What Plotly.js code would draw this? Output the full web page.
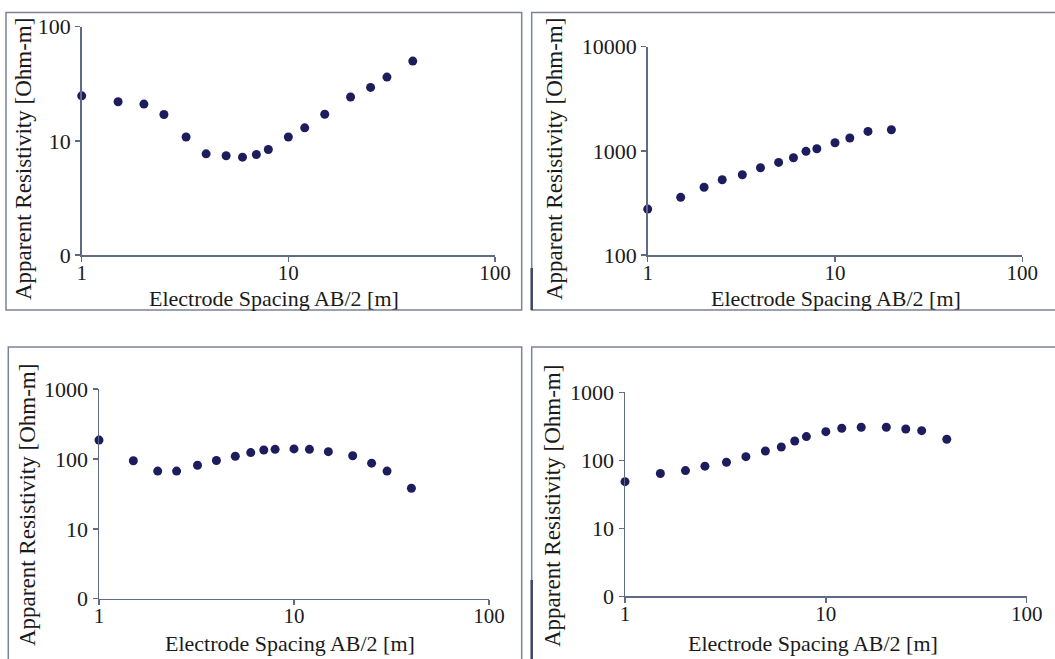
<!DOCTYPE html>
<html>
<head>
<meta charset="utf-8">
<script src="https://cdn.plot.ly/plotly-3.0.1.min.js"></script>
<style>
  html, body { margin: 0; padding: 0; background: #ffffff; }
  #chart { width: 1055px; height: 659px; }
</style>
</head>
<body>
<div id="chart"></div>
<script>
// ---- Data ----
const spacing1 = [1, 1.5, 2, 2.5, 3.2, 4, 5, 6, 7, 8, 10, 12, 15, 20, 25, 30, 40];
const resistivity1 = [24.8, 22, 21, 17, 10.8, 7.7, 7.4, 7.2, 7.6, 8.4, 10.8, 13, 17.1, 24.2, 29.4, 36.2, 50];

const spacing2 = [1, 1.5, 2, 2.5, 3.2, 4, 5, 6, 7, 8, 10, 12, 15, 20];
const resistivity2 = [276, 358, 447, 528, 590, 689, 775, 858, 989, 1047, 1196, 1328, 1537, 1596];

const spacing3 = [1, 1.5, 2, 2.5, 3.2, 4, 5, 6, 7, 8, 10, 12, 15, 20, 25, 30, 40];
const resistivity3 = [186, 94, 67, 67, 81, 95, 109, 123, 134, 137, 139, 137, 127, 111, 87, 67, 38];

const spacing4 = [1, 1.5, 2, 2.5, 3.2, 4, 5, 6, 7, 8, 10, 12, 15, 20, 25, 30, 40];
const resistivity4 = [48.5, 64, 70.5, 82, 93.5, 113, 137, 157, 192, 223, 264, 296, 306, 306, 289, 273, 204];

const xTickVals = [1, 10, 100];
const xTickText = ["1", "10", "100"];
const yTickVals1 = [1, 10, 100];
const yTickText1 = ["0", "10", "100"];
const yTickVals2 = [100, 1000, 10000];
const yTickText2 = ["100", "1000", "10000"];
const yTickVals34 = [1, 10, 100, 1000];
const yTickText34 = ["0", "10", "100", "1000"];

const xTitle = "Electrode Spacing AB/2 [m]";
const yTitle = "Apparent Resistivity [Ohm-m]";

// ---- Styling ----
const W = 1055, H = 659;
const FONT = "Liberation Serif, Times New Roman, serif";
const TEXT = "#1a1a1a";
const AXIS = "#5f6b84";
const FRAME = "#7b8396";
const DARK = "#3c4763";
const MARK = "#1d1d5e";

const px = v => v / W;
const py = v => 1 - v / H;

function xa(d0, d1, anchor) {
  return {
    type: "log", range: [0, 2], domain: [px(d0), px(d1)], anchor: anchor,
    tickvals: xTickVals, ticktext: xTickText,
    showline: true, linecolor: AXIS, linewidth: 1.5,
    ticks: "outside", ticklen: 5, tickcolor: AXIS, tickwidth: 1.5,
    ticklabelposition: "outside", ticklabelstandoff: -7,
    showgrid: false, zeroline: false,
    tickfont: { family: FONT, size: 21, color: TEXT }
  };
}
function ya(top, bottom, anchor, range, vals, text) {
  return {
    type: "log", range: range, domain: [py(bottom), py(top)], anchor: anchor,
    tickvals: vals, ticktext: text,
    showline: true, linecolor: AXIS, linewidth: 1.5,
    ticks: "outside", ticklen: 5, tickcolor: AXIS, tickwidth: 1.5,
    showgrid: false, zeroline: false,
    tickfont: { family: FONT, size: 22, color: TEXT }
  };
}

function trace(x, y, xaxis, yaxis) {
  return {
    x: x, y: y, xaxis: xaxis, yaxis: yaxis,
    type: "scatter", mode: "markers",
    marker: { color: MARK, size: 9, symbol: "circle" },
    hoverinfo: "x+y", showlegend: false, cliponaxis: false
  };
}

const data = [
  trace(spacing1, resistivity1, "x", "y"),
  trace(spacing2, resistivity2, "x2", "y2"),
  trace(spacing3, resistivity3, "x3", "y3"),
  trace(spacing4, resistivity4, "x4", "y4")
];

function frame(x0, y0, x1, y1) {
  return {
    type: "rect", xref: "paper", yref: "paper",
    x0: px(x0), x1: px(x1), y0: py(y1), y1: py(y0),
    line: { color: FRAME, width: 1.5 }, fillcolor: "rgba(0,0,0,0)", layer: "below"
  };
}
function seg(x, y0, y1) {
  return {
    type: "line", xref: "paper", yref: "paper",
    x0: px(x), x1: px(x), y0: py(y0), y1: py(y1),
    line: { color: DARK, width: 2.5 }, layer: "below"
  };
}

function xt(cx, cy) {
  return {
    text: xTitle, xref: "paper", yref: "paper", x: px(cx), y: py(cy),
    xanchor: "center", yanchor: "middle", showarrow: false,
    font: { family: FONT, size: 22, color: TEXT }
  };
}
function yt(cx, cy) {
  return {
    text: yTitle, xref: "paper", yref: "paper", x: px(cx), y: py(cy),
    xanchor: "center", yanchor: "middle", showarrow: false, textangle: -90,
    font: { family: FONT, size: 23, color: TEXT }
  };
}

const layout = {
  width: W, height: H,
  margin: { l: 0, r: 0, t: 0, b: 0 },
  paper_bgcolor: "#ffffff", plot_bgcolor: "rgba(0,0,0,0)",
  showlegend: false,
  xaxis: xa(81.7, 495, "y"),
  yaxis: ya(26.7, 255, "x", [0, 2], yTickVals1, yTickText1),
  xaxis2: xa(647.7, 1022.3, "y2"),
  yaxis2: ya(46.7, 255, "x2", [2, 4], yTickVals2, yTickText2),
  xaxis3: xa(99, 489, "y3"),
  yaxis3: ya(389, 598.7, "x3", [0, 3], yTickVals34, yTickText34),
  xaxis4: xa(625, 1026.7, "y4"),
  yaxis4: ya(392.3, 596.3, "x4", [0, 3], yTickVals34, yTickText34),
  shapes: [
    frame(6, 12.5, 521.7, 310),
    frame(531.7, 12.5, 1062, 310),
    frame(8.3, 347, 521.7, 668),
    frame(531.7, 347, 1062, 668),
    seg(531.7, 268, 310),
    seg(531.7, 580, 659)
  ],
  annotations: [
    xt(274, 299), xt(836, 299), xt(290, 643), xt(813, 643),
    yt(24, 159), yt(555, 159), yt(27, 505), yt(552, 506)
  ]
};

Plotly.newPlot("chart", data, layout, { displayModeBar: false, staticPlot: true });
</script>
</body>
</html>
